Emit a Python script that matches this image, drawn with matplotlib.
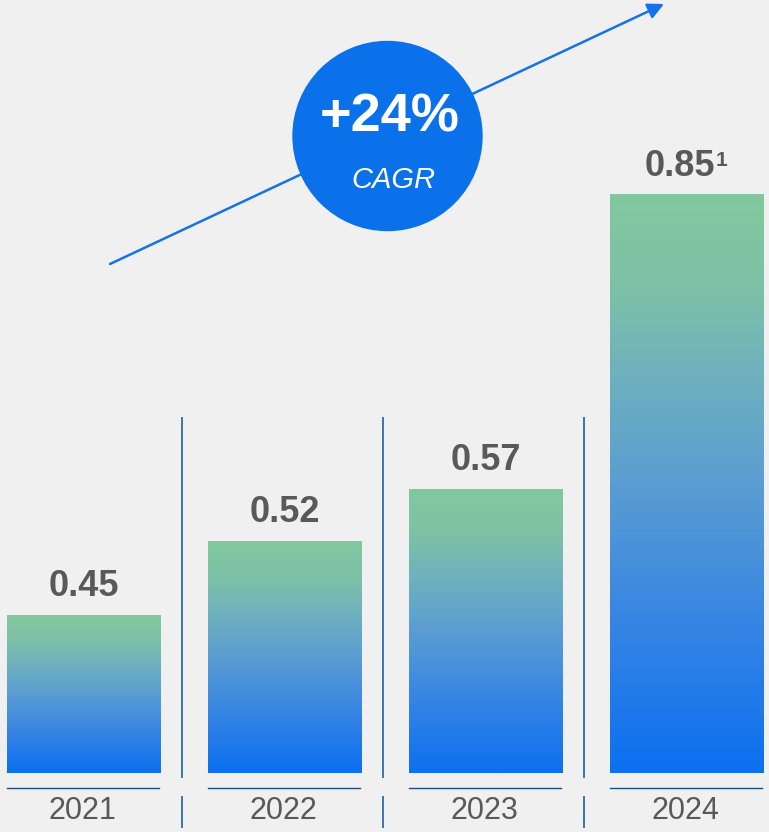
import matplotlib.pyplot as plt
import numpy as np
from matplotlib.colors import LinearSegmentedColormap
from matplotlib.patches import Ellipse

plt.rcParams["font.family"] = ["Liberation Sans", "DejaVu Sans"]

annees = ["2021", "2022", "2023", "2024"]
valeurs = [0.45, 0.52, 0.57, 0.85]
etiquettes = ["0.45", "0.52", "0.57", "0.85"]
note_derniere = "1"
cagr = "+24%"

FOND = "#f0f0f0"
GRIS = "#595959"
BLEU = "#0a71eb"
degrade = LinearSegmentedColormap.from_list(
    "vert_bleu",
    [(0.0, "#0c70f0"), (0.25, "#3584e4"), (0.5, "#5a9dd2"),
     (0.7, "#70b2bc"), (0.85, "#7dc2a6"), (1.0, "#82c89e")])

W, H = 769, 832
fig = plt.figure(figsize=(W / 100, H / 100), dpi=100, facecolor=FOND)
ax = fig.add_axes([0, 0, 1, 1])
ax.set_facecolor(FOND)
ax.set_axis_off()

# axe des valeurs tronqué à 0.30, comme sur la diapo
base = 0.30
ax.set_xlim(-0.418, 3.408)
ax.set_ylim(0.2439, 1.0355)
trans = ax.get_xaxis_transform()

largeur = 0.766
grad = np.linspace(0, 1, 256).reshape(-1, 1)
for i, v in enumerate(valeurs):
    ax.imshow(grad, cmap=degrade, origin="lower", aspect="auto",
              extent=(i - largeur / 2, i + largeur / 2, base, v), zorder=2)
    # trait sous la barre
    ax.plot([i - largeur / 2, i + largeur / 2 - 0.01], [0.0532, 0.0532],
            transform=trans, color="#1f4e79", lw=1.0)
    ax.text(i - 0.01, 0.0252, annees[i], transform=trans,
            ha="center", va="center", fontsize=22, color=GRIS)

    dx = -5 if i == len(valeurs) - 1 else 0
    t = ax.annotate(etiquettes[i], xy=(i, v), xytext=(dx, 14),
                    textcoords="offset points", ha="center", va="baseline",
                    fontsize=26, fontweight="bold", color=GRIS)
    if i == len(valeurs) - 1:
        ax.annotate(note_derniere, xy=(1.0, 1.0), xycoords=t,
                    xytext=(0.5, -2), textcoords="offset points",
                    ha="left", va="top", fontsize=15, fontweight="bold",
                    color=GRIS)

# séparateurs verticaux entre les années
for s in range(len(valeurs) - 1):
    x = s + 0.488
    ax.plot([x, x], [0.066, 0.4976], transform=trans, color="#3a75ad", lw=1.4)
    ax.plot([x, x], [0.006, 0.042], transform=trans, color="#3a75ad", lw=1.4)

# flèche de croissance + pastille CAGR
ax.annotate("", xy=(664 / W, 1 - 4 / H), xytext=(110 / W, 1 - 264 / H),
            xycoords="axes fraction", textcoords="axes fraction",
            arrowprops=dict(arrowstyle="-|>", color="#1473e6", lw=1.8,
                            mutation_scale=24, shrinkA=0, shrinkB=0),
            zorder=3)
cx, cy, r = 387.5 / W, 1 - 136 / H, 94.5
ax.add_patch(Ellipse((cx, cy), 2 * r / W, 2 * r / H, transform=ax.transAxes,
                     color=BLEU, zorder=4))
ax.text(390 / W, 1 - 117 / H, cagr, transform=ax.transAxes, ha="center",
        va="center", fontsize=39, fontweight="bold", color="white", zorder=5)
ax.text(393 / W, 1 - 180 / H, "CAGR", transform=ax.transAxes, ha="center",
        va="center", fontsize=21, fontstyle="italic", color="white", zorder=5)

fig.savefig("out.png", dpi=100, facecolor=FOND)
